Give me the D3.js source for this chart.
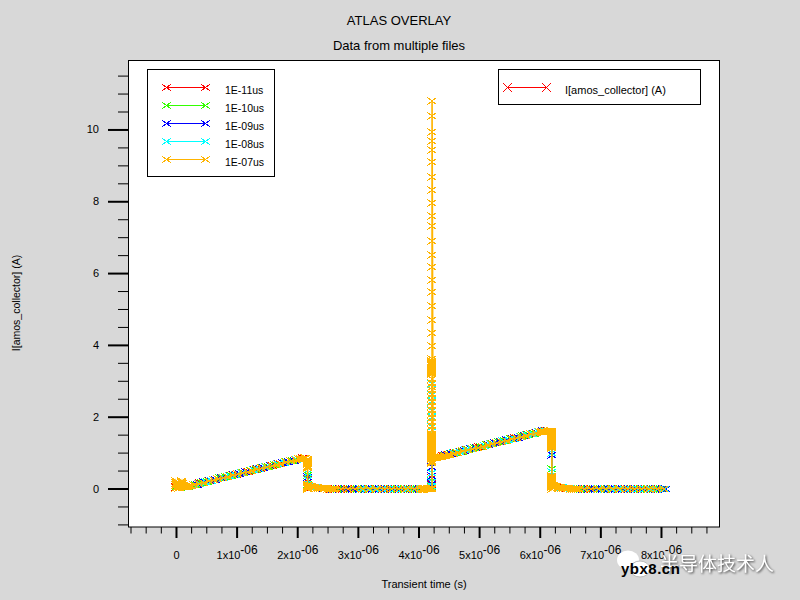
<!DOCTYPE html>
<html>
<head>
<meta charset="utf-8">
<script src="https://cdn.jsdelivr.net/npm/d3@7"></script>
<style>
  html, body { margin: 0; padding: 0; background: #d8d8d8; }
  svg { display: block; font-family: "Liberation Sans", Arial, sans-serif; }
  text { fill: #000; }
</style>
</head>
<body>
<div id="chartdiv"></div>
<script>
// Time in microseconds, current in amps
var run11 = [[0,.05],[.04,.1],[.2,.05],[.3,.09],
  [.4,.14],[.5,.18],[.6,.22],[.7,.26],[.8,.3],[.9,.35],[1,.39],[1.1,.43],[1.2,.47],[1.3,.51],[1.4,.55],[1.5,.59],[1.6,.63],[1.7,.67],[1.8,.72],[1.9,.76],[2,.8],
  [2.1,.84],[2.17,.82],[2.17,.26],[2.18,.1],[2.25,.04],[2.4,.01],[2.55,0],
  [2.64,0],[2.75,0],[2.86,0],[2.97,0],[3.08,0],[3.19,0],[3.3,0],[3.41,0],[3.52,0],[3.63,0],[3.74,0],[3.85,0],[3.96,0],[4.07,0],
  [4.224,.02],[4.224,.1],[4.224,.3],[4.224,.85],
  [4.3,.85],[4.4,.9],[4.5,.94],[4.6,.98],[4.7,1.02],[4.8,1.06],[4.9,1.1],[5,1.15],[5.1,1.19],[5.2,1.23],[5.3,1.27],[5.4,1.31],[5.5,1.36],[5.6,1.4],[5.7,1.44],[5.8,1.48],[5.9,1.52],[6,1.56],
  [6.1,1.59],[6.2,1.59],[6.2,.98],[6.2,.06],[6.3,.03],[6.45,.01],
  [6.65,0],[6.76,0],[6.87,0],[6.98,0],[7.09,0],[7.2,0],[7.31,0],[7.42,0],[7.53,0],[7.64,0],[7.75,0],[7.86,0],[7.97,0],[8.08,0]];

var run10 = [[.02,.08],[.08,.12],[.22,.05],[.33,.1],
  [.43,.15],[.53,.19],[.63,.24],[.73,.28],[.83,.32],[.93,.36],[1.03,.4],[1.13,.44],[1.23,.48],[1.33,.52],[1.43,.56],[1.53,.6],[1.63,.65],[1.73,.69],[1.83,.73],[1.93,.77],[2.03,.81],
  [2.12,.84],[2.17,.8],[2.17,.38],[2.18,.12],[2.27,.04],[2.42,.01],[2.57,0],
  [2.67,0],[2.78,0],[2.89,0],[3,0],[3.11,0],[3.22,0],[3.33,0],[3.44,0],[3.55,0],[3.66,0],[3.77,0],[3.88,0],[3.99,0],[4.1,0],
  [4.224,.04],[4.224,.2],[4.224,.6],[4.224,.88],
  [4.33,.87],[4.43,.91],[4.53,.95],[4.63,.99],[4.73,1.03],[4.83,1.08],[4.93,1.12],[5.03,1.16],[5.13,1.2],[5.23,1.24],[5.33,1.29],[5.43,1.33],[5.53,1.37],[5.63,1.41],[5.73,1.45],[5.83,1.49],[5.93,1.53],[6.03,1.58],
  [6.12,1.59],[6.2,1.56],[6.2,.53],[6.2,.08],[6.32,.03],[6.47,.01],
  [6.68,0],[6.79,0],[6.9,0],[7.01,0],[7.12,0],[7.23,0],[7.34,0],[7.45,0],[7.56,0],[7.67,0],[7.78,0],[7.89,0],[8,0],[8.08,0]];

var run09 = [[.03,.06],[.1,.1],[.24,.06],[.36,.11],
  [.46,.17],[.56,.21],[.66,.25],[.76,.29],[.86,.33],[.96,.37],[1.06,.41],[1.16,.45],[1.26,.5],[1.36,.54],[1.46,.58],[1.56,.62],[1.66,.66],[1.76,.7],[1.86,.74],[1.96,.78],[2.06,.82],
  [2.14,.84],[2.17,.78],[2.17,.33],[2.19,.1],[2.29,.04],[2.44,.01],[2.59,0],
  [2.7,0],[2.81,0],[2.92,0],[3.03,0],[3.14,0],[3.25,0],[3.36,0],[3.47,0],[3.58,0],[3.69,0],[3.8,0],[3.91,0],[4.02,0],[4.13,0],
  [4.224,.06],[4.224,.12],[4.224,.36],[4.224,.6],[4.224,.9],
  [4.36,.88],[4.46,.92],[4.56,.96],[4.66,1],[4.76,1.05],[4.86,1.09],[4.96,1.13],[5.06,1.17],[5.16,1.21],[5.26,1.26],[5.36,1.3],[5.46,1.34],[5.56,1.38],[5.66,1.42],[5.76,1.46],[5.86,1.51],[5.96,1.55],[6.06,1.59],
  [6.14,1.59],[6.2,1.54],[6.2,.93],[6.2,.1],[6.34,.03],[6.49,.01],
  [6.71,0],[6.82,0],[6.93,0],[7.04,0],[7.15,0],[7.26,0],[7.37,0],[7.48,0],[7.59,0],[7.7,0],[7.81,0],[7.92,0],[8.03,0],[8.09,0]];

var run08 = [[.05,.06],[.12,.1],[.26,.07],[.39,.12],
  [.49,.18],[.59,.22],[.69,.26],[.79,.3],[.89,.34],[.99,.38],[1.09,.43],[1.19,.47],[1.29,.51],[1.39,.55],[1.49,.59],[1.59,.63],[1.69,.67],[1.79,.71],[1.89,.76],[1.99,.79],[2.09,.83],
  [2.15,.85],[2.17,.76],[2.17,.42],[2.17,.24],[2.2,.08],[2.31,.03],[2.46,.01],[2.61,0],
  [2.73,0],[2.84,0],[2.95,0],[3.06,0],[3.17,0],[3.28,0],[3.39,0],[3.5,0],[3.61,0],[3.72,0],[3.83,0],[3.94,0],[4.05,0],[4.16,0],
  [4.224,.08],[4.224,.18],[4.224,.42],[4.224,.7],[4.224,.92],[4.224,1.7],[4.224,1.85],[4.224,2],[4.224,2.15],[4.224,2.3],[4.224,2.45],[4.224,2.6],[4.224,2.75],[4.224,2.9],[4.224,3.05],[4.224,.95],
  [4.39,.89],[4.49,.93],[4.59,.98],[4.69,1.02],[4.79,1.06],[4.89,1.1],[4.99,1.14],[5.09,1.19],[5.19,1.23],[5.29,1.27],[5.39,1.31],[5.49,1.35],[5.59,1.39],[5.69,1.43],[5.79,1.48],[5.89,1.52],[5.99,1.56],[6.09,1.59],
  [6.16,1.59],[6.2,1.52],[6.2,.98],[6.2,.47],[6.2,.12],[6.36,.03],[6.51,.01],
  [6.74,0],[6.85,0],[6.96,0],[7.07,0],[7.18,0],[7.29,0],[7.4,0],[7.51,0],[7.62,0],[7.73,0],[7.84,0],[7.95,0],[8.06,0]];

var run07 = [[0,.02],[0,.1],[0,.14],[0,.2],[.01,.17],[.01,.14],[.02,.1],[.03,.06],[.04,.04],[.05,.02],[.06,.03],[.07,.05],[.08,.09],[.09,.13],[.1,.2],[.105,.17],[.11,.14],[.12,.1],[.13,.07],[.14,.05],[.15,.04],[.17,.04],[.19,.05],[.21,.06],[.23,.06],[.25,.07],[.27,.08],
  [.3,.1],[.38,.13],[.46,.165],[.54,.2],[.62,.23],[.7,.265],[.78,.3],[.86,.33],[.94,.365],[1.02,.395],[1.1,.43],[1.18,.46],[1.26,.495],[1.34,.53],[1.42,.56],[1.5,.59],[1.58,.625],[1.66,.66],[1.74,.69],[1.82,.725],[1.9,.755],[1.98,.79],[2.03,.81],[2.06,.82],[2.09,.83],[2.12,.84],[2.15,.84],
  [2.17,.82],[2.17,.79],[2.17,.76],[2.17,.73],[2.17,.7],[2.17,.67],[2.17,.64],[2.17,.61],[2.17,.58],
  [2.17,.1],[2.17,.07],[2.17,.04],[2.17,.02],[2.18,0],[2.2,.09],[2.22,.07],[2.24,.06],[2.26,.04],[2.28,.03],[2.3,.03],[2.33,.02],[2.36,.02],[2.39,.01],[2.42,.01],[2.45,.01],[2.48,.01],[2.51,0],[2.54,0],[2.57,0],[2.6,0],[2.63,0],
  [2.72,0],[2.84,0],[2.96,0],[3.08,0],[3.2,0],[3.32,0],[3.44,0],[3.56,0],[3.68,0],[3.8,0],[3.92,0],[4.04,0],[4.07,0],[4.09,0],[4.11,0],[4.13,0],[4.15,0],[4.17,0],[4.19,0],[4.21,0],[4.23,0],
  [4.224,.02],[4.224,.72],[4.224,.75],[4.224,.78],[4.224,.81],[4.224,.84],[4.224,.87],[4.224,.9],[4.224,.93],[4.224,.96],[4.224,.99],[4.224,1.02],[4.224,1.05],[4.224,1.08],[4.224,1.11],[4.224,1.14],[4.224,1.17],[4.224,1.2],[4.224,1.23],[4.224,1.26],[4.224,1.29],[4.224,1.32],[4.224,1.35],[4.224,1.38],[4.224,1.41],[4.224,1.44],[4.224,1.47],[4.224,1.5],[4.224,1.53],
  [4.224,1.62],[4.224,1.74],[4.224,1.85],[4.224,1.96],[4.224,2.07],[4.224,2.18],[4.224,2.29],[4.224,2.4],[4.224,2.51],[4.224,2.62],[4.224,2.73],[4.224,2.84],[4.224,2.95],[4.224,3.06],
  [4.224,3.19],[4.224,3.22],[4.224,3.25],[4.224,3.28],[4.224,3.31],[4.224,3.34],[4.224,3.37],[4.224,3.4],[4.224,3.43],[4.224,3.46],[4.224,3.49],[4.224,3.52],[4.224,3.55],[4.224,3.62],[4.224,3.96],
  [4.224,4.32],[4.224,4.68],[4.224,5.07],[4.224,5.46],[4.224,5.82],[4.224,6.16],[4.224,6.5],[4.224,6.88],[4.224,7.3],[4.224,7.6],[4.224,7.94],[4.224,8.3],[4.224,8.68],[4.224,9.09],[4.224,9.44],[4.224,9.67],[4.224,9.94],[4.224,10.37],[4.224,10.79],
  [4.24,.84],[4.27,.84],[4.3,.85],[4.33,.865],[4.36,.88],[4.39,.89],[4.42,.905],[4.45,.915],[4.48,.93],[4.52,.945],[4.58,.97],[4.66,1],[4.74,1.035],[4.82,1.07],[4.9,1.1],[4.98,1.135],[5.06,1.17],[5.14,1.2],[5.22,1.235],[5.3,1.27],[5.38,1.305],[5.46,1.335],[5.54,1.37],[5.62,1.405],[5.7,1.44],[5.78,1.47],[5.86,1.505],[5.94,1.54],[6,1.56],[6.03,1.57],[6.06,1.58],[6.09,1.585],[6.12,1.59],[6.15,1.59],[6.18,1.59],
  [6.2,1.6],[6.2,1.57],[6.2,1.54],[6.2,1.51],[6.2,1.48],[6.2,1.45],[6.2,1.42],[6.2,1.39],[6.2,1.36],[6.2,1.33],[6.2,1.3],[6.2,1.27],[6.2,1.24],[6.2,1.21],[6.2,1.18],[6.2,1.15],[6.2,1.12],
  [6.2,.36],[6.2,.33],[6.2,.3],[6.2,.27],[6.2,.24],[6.2,.21],[6.2,.18],[6.2,.15],[6.2,.12],[6.2,.09],[6.2,.06],[6.2,.03],[6.2,0],[6.23,.09],[6.25,.08],[6.27,.07],[6.29,.06],[6.31,.05],[6.33,.04],[6.35,.03],[6.37,.02],[6.4,.02],[6.43,.01],[6.46,.01],[6.49,.01],[6.52,0],[6.55,0],[6.58,0],[6.61,0],[6.64,0],
  [6.73,0],[6.85,0],[6.97,0],[7.09,0],[7.21,0],[7.33,0],[7.45,0],[7.57,0],[7.69,0],[7.81,0],[7.93,0],[8.05,0]];

var runs = [run11, run10, run09, run08, run07];
var runLabels = ["1E-11us", "1E-10us", "1E-09us", "1E-08us", "1E-07us"];
var runColors = ["#ff0000", "#33ff00", "#0000ff", "#00ffff", "#ffb400"];
var xMajor = [0, 1, 2, 3, 4, 5, 6, 7, 8];
var xMinor = [-.75, -.5, -.25, .25, .5, .75, 1.25, 1.5, 1.75, 2.25, 2.5, 2.75, 3.25, 3.5, 3.75, 4.25, 4.5, 4.75, 5.25, 5.5, 5.75, 6.25, 6.5, 6.75, 7.25, 7.5, 7.75, 8.25, 8.5, 8.75];
var yMajor = [0, 2, 4, 6, 8, 10];
var yMinor = [-1, -.5, .5, 1, 1.5, 2.5, 3, 3.5, 4.5, 5, 5.5, 6.5, 7, 7.5, 8.5, 9, 9.5, 10.5, 11, 11.5];

var svgWidth = 800;
var svgHeight = 600;

var svg = d3.select("#chartdiv")
    .append("svg")
    .attr("width", svgWidth)
    .attr("height", svgHeight);

var xScale = d3.scaleLinear().domain([-.775, 8.962]).range([129, 719.3]);
var yScale = d3.scaleLinear().domain([-1.058, 11.94]).range([526.5, 59.8]);

// plot area
svg.append("rect")
    .attr("x", 128.5).attr("y", 60.5)
    .attr("width", 591).attr("height", 466.5)
    .attr("fill", "#fff").attr("stroke", "#000");

// x axis, minor then major
svg.append("g")
    .attr("transform", "translate(0,527)")
    .call(d3.axisBottom(xScale).tickValues(xMinor).tickSize(6.5).tickSizeOuter(0).tickFormat(""))
    .call(g => g.select(".domain").remove());

var xAxis = svg.append("g")
    .attr("transform", "translate(0,527)")
    .call(d3.axisBottom(xScale).tickValues(xMajor).tickSize(11).tickSizeOuter(0)
        .tickFormat(d => d == 0 ? "0" : d + "x10"));
xAxis.select(".domain").remove();
xAxis.selectAll("line").attr("stroke-width", 2);
xAxis.selectAll("text")
    .attr("y", 32).attr("dy", 0)
    .attr("font-size", 11).attr("font-family", "Liberation Sans");
xAxis.selectAll("text").filter(d => d != 0)
    .append("tspan").attr("dy", -5).attr("font-size", 12).text("-06");

// y axis, minor then major
svg.append("g")
    .attr("transform", "translate(129,0)")
    .call(d3.axisLeft(yScale).tickValues(yMinor).tickSize(11).tickSizeOuter(0).tickFormat(""))
    .call(g => g.select(".domain").remove());

var yAxis = svg.append("g")
    .attr("transform", "translate(129,0)")
    .call(d3.axisLeft(yScale).tickValues(yMajor).tickSize(21).tickSizeOuter(0));
yAxis.select(".domain").remove();
yAxis.selectAll("line").attr("stroke-width", 2);
yAxis.selectAll("text")
    .attr("x", -30)
    .attr("font-size", 11).attr("font-family", "Liberation Sans");

// titles
svg.append("text").attr("x", 399).attr("y", 25).attr("text-anchor", "middle").attr("font-size", 13).text("ATLAS OVERLAY");
svg.append("text").attr("x", 399).attr("y", 50).attr("text-anchor", "middle").attr("font-size", 13).text("Data from multiple files");
svg.append("text").attr("x", 424).attr("y", 588).attr("text-anchor", "middle").attr("font-size", 11).text("Transient time (s)");
svg.append("text")
    .attr("transform", "translate(20,303) rotate(-90)")
    .attr("text-anchor", "middle").attr("font-size", 10.5)
    .text("I[amos_collector] (A)");

// cross marker, wider than tall like the original
function crossPath(w, h) {
    return `M${-w},${-h}L${w},${h}M${-w},${h}L${w},${-h}`;
}

var curveLine = d3.line()
    .x(d => xScale(d[0]))
    .y(d => yScale(d[1]));

var plot = svg.append("g");

runs.forEach(function (run, i) {
    var group = plot.append("g");
    group.append("path")
        .attr("d", curveLine(run))
        .attr("fill", "none")
        .attr("stroke", runColors[i])
        .attr("stroke-width", i == 4 ? 1.6 : 1);
    group.selectAll("path.marker")
        .data(run)
        .enter()
        .append("path")
        .attr("class", "marker")
        .attr("d", crossPath(4.5, 3.5))
        .attr("transform", d => `translate(${Math.round(xScale(d[0]))},${Math.round(yScale(d[1]))})`)
        .attr("fill", "none")
        .attr("stroke", runColors[i])
        .attr("shape-rendering", "crispEdges");
});

// run legend
var legend = svg.append("g");
legend.append("rect")
    .attr("x", 147.5).attr("y", 69.5).attr("width", 127).attr("height", 107)
    .attr("fill", "#fff").attr("stroke", "#000");

runLabels.forEach(function (label, i) {
    var rowY = 87.5 + i * 18;
    legend.append("line")
        .attr("x1", 167).attr("x2", 205).attr("y1", rowY).attr("y2", rowY)
        .attr("stroke", runColors[i]);
    [166.5, 205.5].forEach(function (mx) {
        legend.append("path")
            .attr("d", crossPath(4.5, 3.5))
            .attr("transform", `translate(${mx},${rowY})`)
            .attr("fill", "none").attr("stroke", runColors[i])
            .attr("shape-rendering", "crispEdges");
    });
    legend.append("text").attr("x", 225).attr("y", rowY + 6.5).attr("font-size", 10.5).text(label);
});

// quantity legend
var legend2 = svg.append("g");
legend2.append("rect")
    .attr("x", 498.5).attr("y", 69.5).attr("width", 202).attr("height", 35)
    .attr("fill", "#fff").attr("stroke", "#000");
legend2.append("line")
    .attr("x1", 507).attr("x2", 547).attr("y1", 87.5).attr("y2", 87.5)
    .attr("stroke", "#ff0000");
[507.5, 546.5].forEach(function (mx) {
    legend2.append("path")
        .attr("d", crossPath(4.5, 4.5))
        .attr("transform", `translate(${mx},87.5)`)
        .attr("fill", "none").attr("stroke", "#ff0000")
        .attr("shape-rendering", "crispEdges");
});
legend2.append("text").attr("x", 565).attr("y", 94).attr("font-size", 11).text("I[amos_collector] (A)");

// watermark
var mark = svg.append("g");
mark.append("ellipse").attr("cx", 628).attr("cy", 560).attr("rx", 11).attr("ry", 9.5).attr("fill", "#fff");
mark.append("ellipse").attr("cx", 640).attr("cy", 569).attr("rx", 10).attr("ry", 8).attr("fill", "#fff").attr("stroke", "#bbb");
mark.append("text")
    .attr("x", 660).attr("y", 571)
    .attr("font-family", "Noto Sans CJK SC").attr("font-size", 19)
    .style("fill", "#fff")
    .style("filter", "drop-shadow(1px 1px 1px #444)")
    .text("半导体技术人");
mark.append("text")
    .attr("x", 621).attr("y", 574)
    .attr("font-size", 15).attr("font-weight", "bold")
    .attr("letter-spacing", .5)
    .text("ybx8.cn");
</script>
</body>
</html>
